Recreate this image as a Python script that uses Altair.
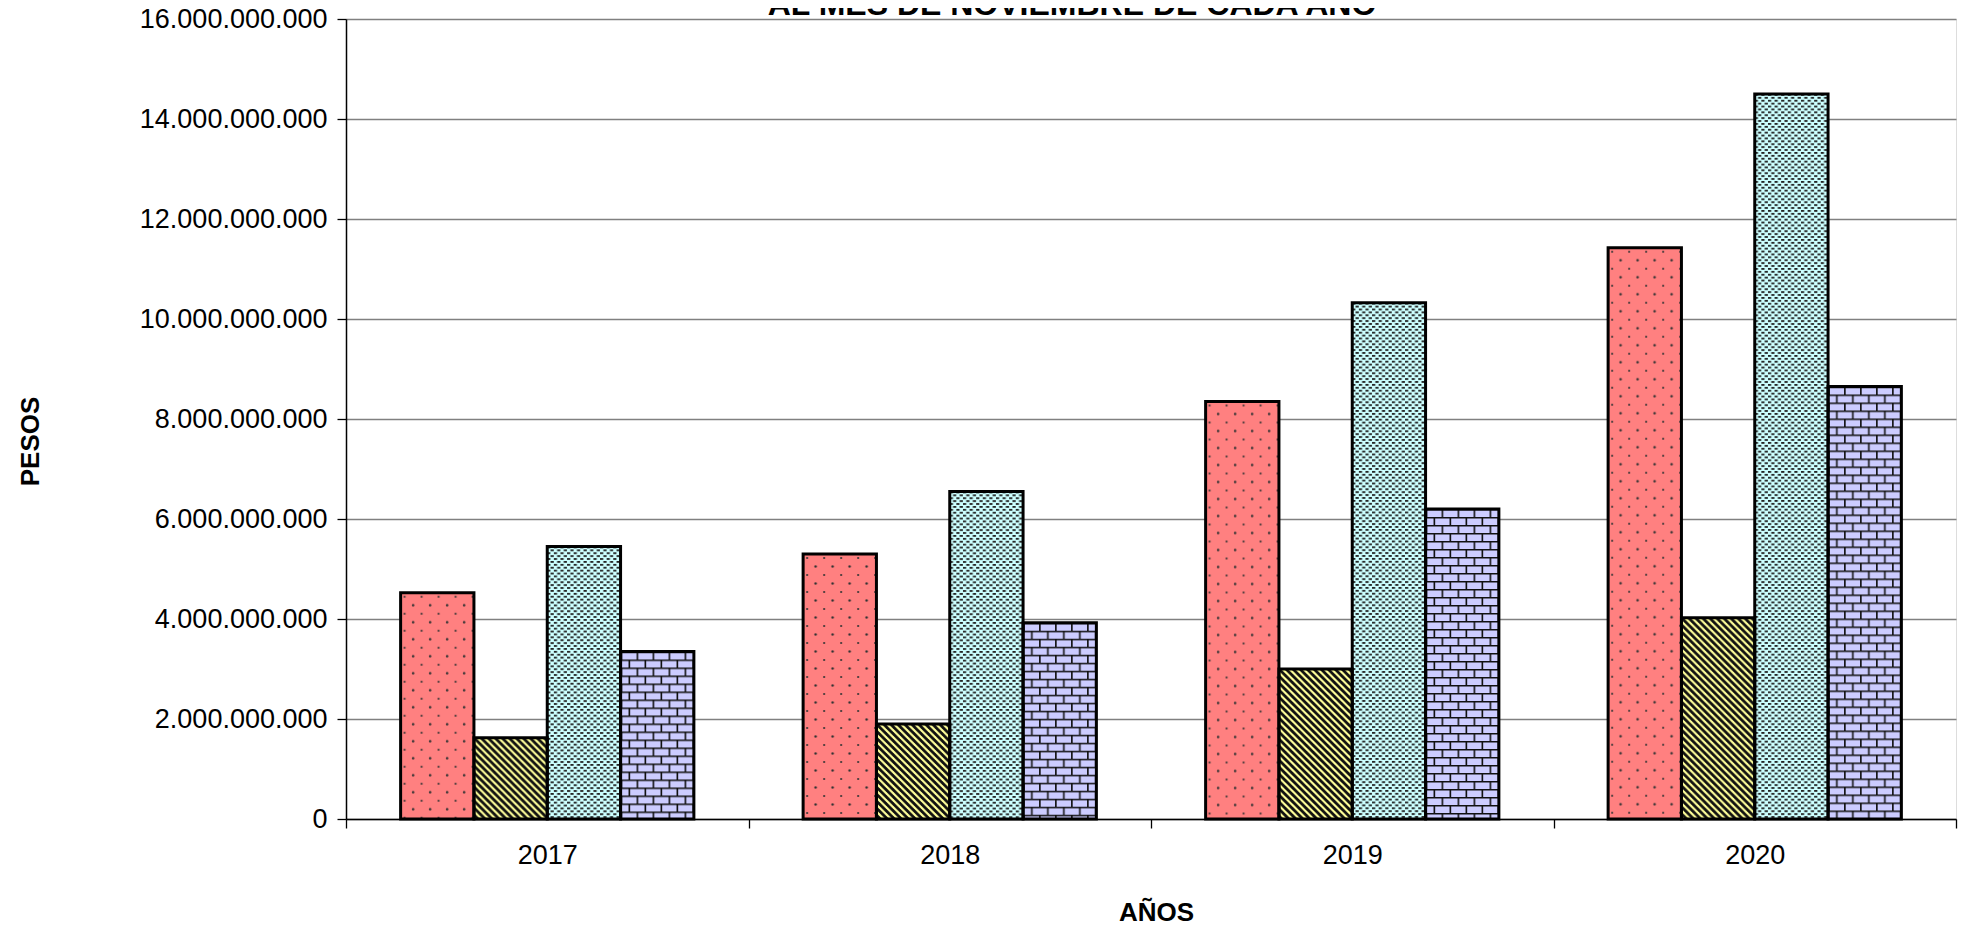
import altair as alt
import pandas as pd
from urllib.parse import quote

# ---------------- data ----------------
years = ["2017", "2018", "2019", "2020"]
series = ["Serie 1", "Serie 2", "Serie 3", "Serie 4"]
serie_1 = [4525000000, 5300000000, 8350000000, 11425000000]
serie_2 = [1625000000, 1900000000, 3000000000, 4025000000]
serie_3 = [5450000000, 6550000000, 10325000000, 14500000000]
serie_4 = [3350000000, 3925000000, 6200000000, 8650000000]
y_ticks = [0, 2000000000, 4000000000, 6000000000, 8000000000,
           10000000000, 12000000000, 14000000000, 16000000000]
title_text = "AL MES DE NOVIEMBRE  DE CADA AÑO"

rows = []
for s, vals in zip(series, [serie_1, serie_2, serie_3, serie_4]):
    for yr, v in zip(years, vals):
        rows.append({"year": yr, "serie": s, "value": v})
df = pd.DataFrame(rows)

# ---------------- styles ----------------
FONT = "Liberation Sans"
fills = ["#FF8080", "#FFFF99", "#CCFFFF", "#CCCCFF"]


def svg_pattern(tile_w, tile_h, body):
    svg = (
        '<svg xmlns="http://www.w3.org/2000/svg"><defs>'
        f'<pattern id="p" width="{tile_w}" height="{tile_h}" patternUnits="userSpaceOnUse">'
        f'{body}</pattern></defs>'
        '<rect width="100%" height="100%" fill="url(#p)"/></svg>'
    )
    return "data:image/svg+xml;charset=utf-8," + quote(svg)


patterns = [
    svg_pattern(17, 17,
                '<circle cx="4" cy="4" r="1.1" fill="#333"/>'
                '<circle cx="12.5" cy="12.5" r="1.25" fill="#333"/>'),
    svg_pattern(7, 7,
                '<path d="M-1,-1 L8,8 M-1,6 L1,8 M6,-1 L8,1" stroke="#111" stroke-width="2.8"/>'),
    svg_pattern(6.6, 5.8,
                '<rect x="0" y="0" width="3.2" height="1.8" fill="#222"/>'
                '<rect x="3.3" y="2.9" width="3.2" height="1.8" fill="#222"/>'),
    svg_pattern(16, 16,
                '<path d="M0,0.8 H16 M0,8.8 H16 M0.8,0.8 V8.8 M8.8,8.8 V16.8" '
                'stroke="#111" stroke-width="1.6" fill="none"/>'),
]

# ---------------- chart ----------------
base = alt.Chart(df).encode(
    x=alt.X(
        "year:N",
        sort=years,
        title="AÑOS",
        scale=alt.Scale(paddingInner=0, paddingOuter=0),
        axis=alt.Axis(
            labelAngle=0,
            tickBand="extent",
            tickSize=9,
            tickColor="black",
            tickWidth=1.3,
            labelPadding=14,
            labelFont=FONT,
            labelFontSize=27,
            labelColor="black",
            domainColor="black",
            domainWidth=1.5,
            grid=False,
            titleFont=FONT,
            titleFontSize=26,
            titleFontWeight="bold",
            titleColor="black",
            titleX=810,
            titleY=93,
            titleBaseline="middle",
            titleAlign="center",
        ),
    ),
    xOffset=alt.XOffset(
        "serie:N",
        sort=series,
        scale=alt.Scale(paddingInner=0, paddingOuter=0.745),
    ),
    y=alt.Y(
        "value:Q",
        title="PESOS",
        scale=alt.Scale(domain=[0, 16000000000], nice=False, zero=True),
        axis=alt.Axis(
            values=y_ticks,
            format=",.0f",
            tickSize=9,
            tickColor="black",
            tickWidth=1.3,
            labelPadding=10,
            labelLimit=0,
            labelFont=FONT,
            labelFontSize=27,
            labelColor="black",
            domainColor="black",
            domainWidth=1.5,
            grid=True,
            gridColor="#808080",
            gridWidth=1.3,
            titleFont=FONT,
            titleFontSize=26,
            titleFontWeight="bold",
            titleColor="black",
            titleX=-316,
            titleY=422,
            titleAngle=270,
            titleBaseline="middle",
            titleAlign="center",
        ),
    ),
)

fill_layer = base.mark_bar(strokeWidth=0).encode(
    color=alt.Color(
        "serie:N",
        scale=alt.Scale(domain=series, range=fills),
        legend=None,
    )
)

pattern_layers = [
    base.transform_filter(alt.datum.serie == s)
    .mark_image(aspect=False)
    .encode(url=alt.value(uri), y2=alt.datum(0))
    for s, uri in zip(series, patterns)
]

outline_layer = base.mark_bar(fillOpacity=0, stroke="black", strokeWidth=3)

title_layer = (
    alt.Chart(pd.DataFrame({"t": [title_text]}))
    .mark_text(
        font=FONT,
        fontSize=32,
        fontWeight="bold",
        color="black",
        align="center",
        baseline="alphabetic",
    )
    .encode(text="t:N", x=alt.value(726), y=alt.value(-4))
)

chart = (
    alt.layer(fill_layer, *pattern_layers, outline_layer, title_layer)
    .properties(
        width=1610,
        height=800,
        autosize=alt.AutoSizeParams(type="none"),
        padding={"left": 338, "top": 11, "right": 2, "bottom": 109},
        background="white",
    )
    .configure_view(stroke="#808080", strokeWidth=1.5)
    .configure(
        locale={
            "number": {
                "decimal": ",",
                "thousands": ".",
                "grouping": [3],
                "currency": ["$", ""],
            }
        }
    )
)

chart.save("out.html", embed_options={"renderer": "svg", "actions": False})
